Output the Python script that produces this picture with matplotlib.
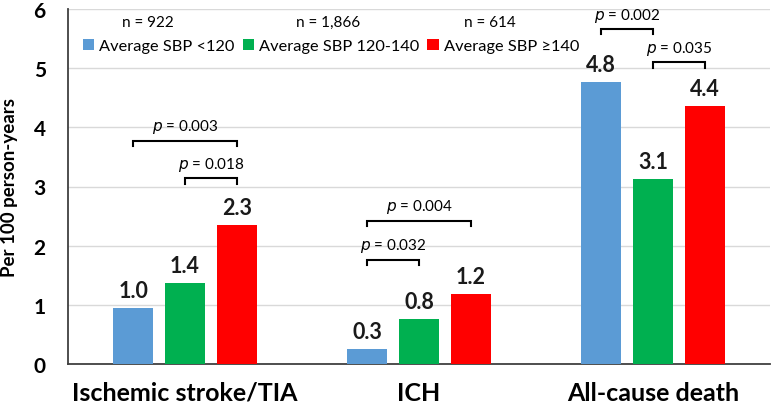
import matplotlib
matplotlib.use("Agg")
import matplotlib.pyplot as plt
import numpy as np

plt.rcParams['font.family'] = ['Lato', 'DejaVu Sans']

# data
categories = ["Ischemic stroke/TIA", "ICH", "All-cause death"]
series_names = ["Average SBP <120", "Average SBP 120-140", "Average SBP \u2265140"]
series_n = ["n = 922", "n = 1,866", "n = 614"]
sbp_lt120 = [0.95, 0.25, 4.76]
sbp_120_140 = [1.37, 0.76, 3.12]
sbp_ge140 = [2.35, 1.18, 4.36]
value_labels = [["1.0", "0.3", "4.8"],
                ["1.4", "0.8", "3.1"],
                ["2.3", "1.2", "4.4"]]
# (category, series a, series b, height, text)
pvals = [(0, 0, 2, 3.77, "0.003"),
         (0, 1, 2, 3.14, "0.018"),
         (1, 0, 2, 2.42, "0.004"),
         (1, 0, 1, 1.76, "0.032"),
         (2, 0, 1, 5.66, "0.002"),
         (2, 1, 2, 5.10, "0.035")]
colors = ["#5B9BD5", "#00B050", "#FF0000"]

fig = plt.figure(figsize=(7.73, 4.10), dpi=100)
ax = fig.add_axes([68 / 773, 45 / 410, 702 / 773, 355 / 410])

x = np.arange(len(categories))
width = 0.172
offset = 0.222
series = [sbp_lt120, sbp_120_140, sbp_ge140]
handles = []
for i, vals in enumerate(series):
    xs = x + (i - 1) * offset
    b = ax.bar(xs, vals, width, color=colors[i], label=series_names[i], zorder=3)
    handles.append(b)
    for xx, v, lab in zip(xs, vals, value_labels[i]):
        ax.annotate(lab, (xx, v), xytext=(0, 5), textcoords="offset points",
                    ha="center", va="bottom", fontsize=15.5, fontweight="bold",
                    color="#1a1a1a")

# significance brackets
tick = 0.09
for c, a, b2, h, txt in pvals:
    x1 = c + (a - 1) * offset
    x2 = c + (b2 - 1) * offset
    ax.plot([x1, x1, x2, x2], [h - tick, h, h, h - tick], color="black", lw=1.5,
            solid_joinstyle="miter", zorder=4, clip_on=False)
    ax.annotate(r"$\it{p}$ = " + txt, ((x1 + x2) / 2, h), xytext=(0, 4),
                textcoords="offset points", ha="center", va="bottom",
                fontsize=11, color="black")

ax.set_xlim(-0.5, 2.5)
ax.set_ylim(0, 6)
ax.set_yticks(range(0, 7))
ax.set_xticks(x)
ax.set_xticklabels(categories, fontsize=18, fontweight="bold")
ax.tick_params(axis="x", length=0, pad=12)
ax.tick_params(axis="y", length=0, pad=16, labelsize=15)
for t in ax.get_yticklabels():
    t.set_fontweight("bold")
ax.set_ylabel("Per 100 person-years", fontsize=13.5, fontweight="bold")
ax.yaxis.set_label_coords(-0.071, 0.5)

ax.grid(axis="y", color="#d9d9d9", lw=1, zorder=0)
ax.spines["top"].set_visible(False)
ax.spines["right"].set_visible(False)
ax.spines["left"].set_color("#404040")
ax.spines["left"].set_linewidth(1.3)
ax.spines["bottom"].set_color("#404040")
ax.spines["bottom"].set_linewidth(1.3)

leg = ax.legend(handles=handles, loc="upper left", ncol=3, frameon=False,
                bbox_to_anchor=(76 / 773, 1 - 33 / 410), bbox_transform=fig.transFigure,
                fontsize=11.8, handlelength=0.7, handleheight=0.7,
                handletextpad=0.3, columnspacing=0.5, borderaxespad=0)

# n labels above legend entries
for px, txt in zip([148, 328, 490], series_n):
    fig.text(px / 773, 1 - 23 / 410, txt, ha="center", va="center", fontsize=11)

fig.savefig("out.png", dpi=100)
